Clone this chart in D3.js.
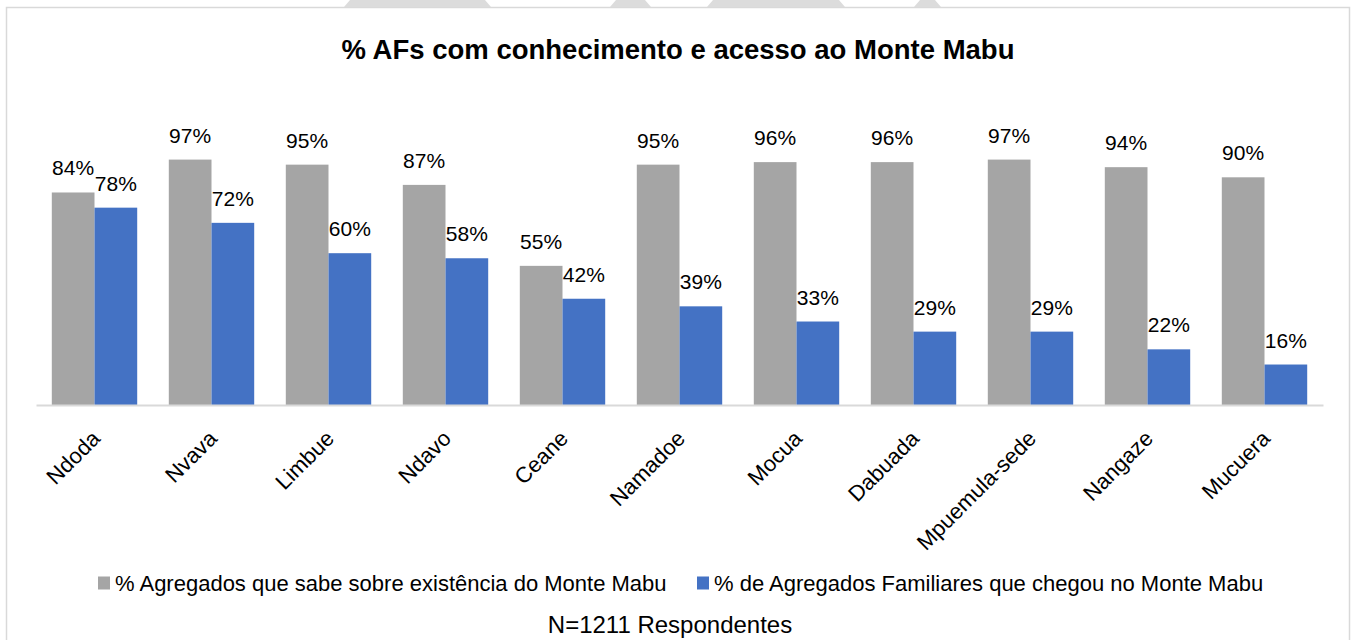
<!DOCTYPE html>
<html>
<head>
<meta charset="utf-8">
<script src="https://cdn.jsdelivr.net/npm/d3@7"></script>
<style>
  body { margin: 0; background: #fff; }
  svg { display: block; font-family: "Liberation Sans", Arial, sans-serif; }
</style>
</head>
<body>
<svg id="svg_chart" width="1351" height="640"></svg>
<script>
// Data
const categories = ['Ndoda', 'Nvava', 'Limbue', 'Ndavo', 'Ceane', 'Namadoe', 'Mocua', 'Dabuada', 'Mpuemula-sede', 'Nangaze', 'Mucuera'];
const knowValues = [84, 97, 95, 87, 55, 95, 96, 96, 97, 94, 90];
const reachedValues = [78, 72, 60, 58, 42, 39, 33, 29, 29, 22, 16];
const seriesNames = ['% Agregados que sabe sobre existência do Monte Mabu', '% de Agregados Familiares que chegou no Monte Mabu'];
const seriesColors = ['#a5a5a5', '#4472c4'];
const titleText = '% AFs com conhecimento e acesso ao Monte Mabu';
const footnote = 'N=1211 Respondentes';

const svg = d3.select('#svg_chart');

/* Watermark shapes above the frame */
const marks = [[344, 491], [610, 651], [707, 845], [914, 941]];
svg.selectAll('.wm').data(marks).join('path')
   .attr('fill', '#dcdcdc')
   .attr('d', d => `M${d[0]},7 L${d[0] + 6},0 L${d[1] - 6},0 L${d[1]},7 Z`);

/* Frame */
svg.append('rect')
   .attr('x', 6.5).attr('y', 7.5)
   .attr('width', 1343).attr('height', 650)
   .attr('fill', '#fff')
   .attr('stroke', '#d9d9d9')
   .attr('stroke-width', 1.5);

/* Scales */
const xScale = d3.scaleBand()
                 .domain(categories)
                 .range([36, 1323])
                 .paddingInner(0.27)
                 .paddingOuter(0.135);

const xSub = d3.scaleBand()
               .domain([0, 1])
               .range([0, xScale.bandwidth()]);

const yScale = d3.scaleLinear()
                 .domain([0, 100])
                 .range([405, 152]);

/* Title */
svg.append('text')
   .attr('x', 678).attr('y', 59)
   .attr('text-anchor', 'middle')
   .attr('font-size', 27.5)
   .attr('font-weight', 'bold')
   .attr('fill', '#000')
   .text(titleText);

/* Bars */
const rows = categories.map((c, i) => ({ cat: c, vals: [knowValues[i], reachedValues[i]] }));

const groups = svg.selectAll('.grp').data(rows).join('g')
   .attr('transform', d => `translate(${xScale(d.cat)},0)`);

groups.selectAll('rect')
   .data(d => d.vals.map((v, k) => ({ v, k })))
   .join('rect')
   .attr('x', d => xSub(d.k))
   .attr('y', d => yScale(d.v))
   .attr('width', xSub.bandwidth())
   .attr('height', d => yScale(0) - yScale(d.v))
   .attr('fill', d => seriesColors[d.k]);

groups.selectAll('text')
   .data(d => d.vals.map((v, k) => ({ v, k })))
   .join('text')
   .attr('x', d => xSub(d.k) + xSub.bandwidth() / 2)
   .attr('y', d => yScale(d.v) - 17)
   .attr('text-anchor', 'middle')
   .attr('font-size', 21)
   .attr('fill', '#000')
   .text(d => d.v + '%');

/* X axis */
const xAxis = d3.axisBottom(xScale).tickSize(0).tickPadding(0);
const gx = svg.append('g')
   .attr('transform', `translate(0,405)`)
   .call(xAxis);
gx.select('.domain').attr('stroke', '#d9d9d9').attr('stroke-width', 2);
gx.selectAll('.tick text')
   .attr('font-size', 22)
   .attr('font-family', '"Liberation Sans", Arial, sans-serif')
   .attr('fill', '#000')
   .attr('text-anchor', 'end')
   .attr('dy', '0.35em')
   .attr('transform', 'translate(1.5,29.5) rotate(-45)');

/* Legend */
const legendX = [98, 697];
const legend = svg.selectAll('.leg').data(seriesNames).join('g')
   .attr('transform', (d, i) => `translate(${legendX[i]},583)`);
legend.append('rect')
   .attr('x', 0).attr('y', -6.5)
   .attr('width', 12).attr('height', 13)
   .attr('fill', (d, i) => seriesColors[i]);
legend.append('text')
   .attr('x', 17).attr('y', 0)
   .attr('dy', '0.35em')
   .attr('font-size', 22)
   .attr('fill', '#000')
   .text(d => d);

/* Footnote */
svg.append('text')
   .attr('x', 670).attr('y', 625)
   .attr('dy', '0.35em')
   .attr('text-anchor', 'middle')
   .attr('font-size', 24)
   .attr('fill', '#000')
   .text(footnote);
</script>
</body>
</html>
